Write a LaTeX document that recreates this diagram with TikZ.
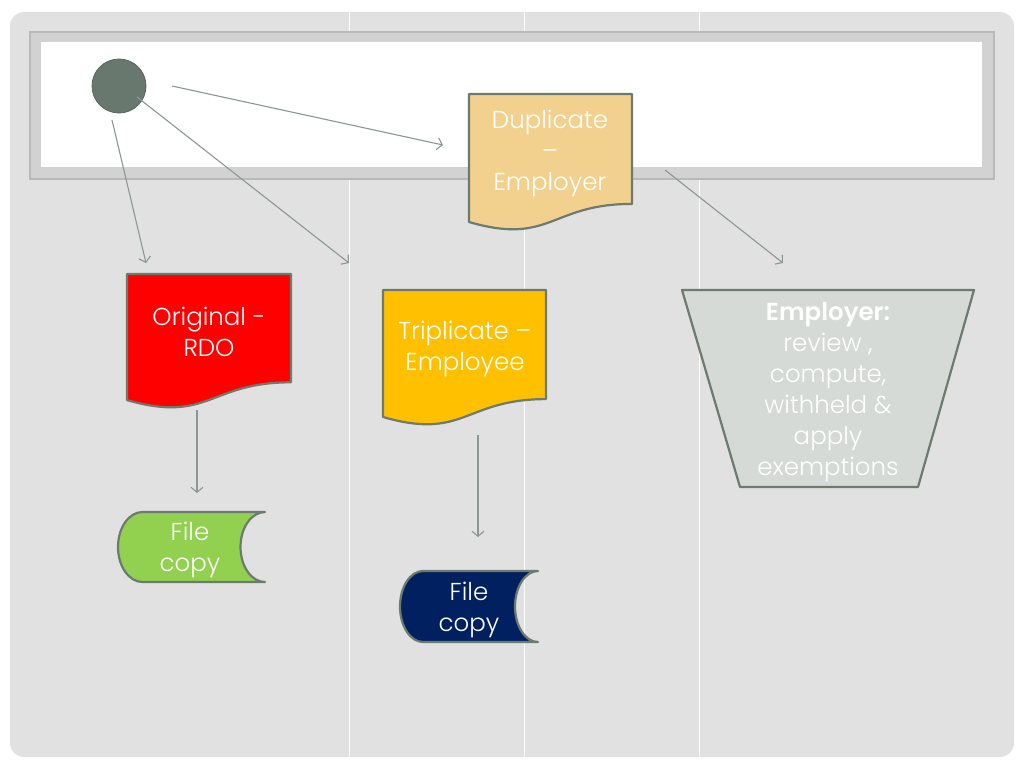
\documentclass[tikz,border=0pt]{standalone}
\usepackage{fontspec}
\setmainfont{Poppins}[UprightFont=* Light, BoldFont=* SemiBold]
\usetikzlibrary{arrows.meta}
\definecolor{panelc}{HTML}{E1E1E1}
\definecolor{bandc}{HTML}{D2D2D2}
\definecolor{bandedge}{HTML}{B9B9B9}
\definecolor{edgec}{HTML}{6C7A70}
\definecolor{arrowc}{HTML}{8C9692}
\definecolor{circc}{HTML}{68786E}
\definecolor{dupc}{HTML}{F2D18E}
\definecolor{redc}{HTML}{FF0000}
\definecolor{triplc}{HTML}{FFC000}
\definecolor{greenc}{HTML}{92D050}
\definecolor{navyc}{HTML}{002060}
\definecolor{trapc}{HTML}{D5DAD6}
\begin{document}
\begin{tikzpicture}[x=1pt,y=-1pt,
  conn/.style={draw=arrowc, line width=1.1pt, -{Straight Barb[length=5pt,width=12pt]}},
  shapeline/.style={draw=edgec, line width=2.2pt, line join=round},
  lbl/.style={text=white, font=\fontsize{24.5}{31}\selectfont, align=center, inner sep=0pt}]
\useasboundingbox (0,0) rectangle (1024,768);
\fill[white] (0,0) rectangle (1024,768);
% panel
\fill[panelc, rounded corners=14pt] (10,12) rectangle (1014,757);
\foreach \xx in {349,524,699} \draw[white, line width=1pt] (\xx,12) -- (\xx,757);
% banner
\fill[bandc, draw=bandedge, line width=1.5pt] (30,32) rectangle (994,179);
\fill[white] (41,42) rectangle (982,167);
% start circle
\node[circle, fill=circc, draw=circc!85!black, line width=0.8pt, minimum size=54pt, inner sep=0pt] (start) at (119,86) {};
% Duplicate - Employer
\path[shapeline, fill=dupc] (469,94) -- (632,94) -- (632,203.9) .. controls (550.5,203.9) and (550.5,245.7) .. (469,222) -- cycle;
\node[lbl] (dup) at (550,153) {Duplicate\\–\\Employer};
% Original - RDO
\path[shapeline, fill=redc] (127,274) -- (291,274) -- (291,382.3) .. controls (209,382.3) and (209,423.5) .. (127,400.1) -- cycle;
\node[lbl] (orig) at (209,332) {Original -\\RDO};
% Triplicate - Employee
\path[shapeline, fill=triplc] (383,290) -- (546,290) -- (546,399.1) .. controls (464.5,399.1) and (464.5,440.6) .. (383,417) -- cycle;
\node[lbl] (trip) at (465,348.5) {Triplicate –\\Employee};
% File copy green
\path[shapeline, fill=greenc] (142.5,512) -- (265,512) arc[start angle=-90, end angle=-270, x radius=24.5, y radius=35] -- (142.5,582) arc[start angle=90, end angle=270, x radius=24.5, y radius=35] -- cycle;
\node[lbl] (file1) at (190,550) {File\\copy};
% File copy navy
\path[shapeline, fill=navyc] (423,571) -- (538,571) arc[start angle=-90, end angle=-270, x radius=23, y radius=35.5] -- (423,642) arc[start angle=90, end angle=270, x radius=23, y radius=35.5] -- cycle;
\node[lbl] (file2) at (469,610) {File\\copy};
% Employer trapezoid
\path[shapeline, fill=trapc] (682,290) -- (974,290) -- (918,487) -- (740,487) -- cycle;
\node[lbl] (empl) at (828,392) {\textbf{Employer:}\\review ,\\compute,\\withheld \&\\apply\\exemptions};
% connector end points
\coordinate (s1) at (172,86);  \coordinate (e1) at (443,145);
\coordinate (s2) at (137,97);  \coordinate (e2) at (349,263);
\coordinate (s3) at (112,120); \coordinate (e3) at (146,263);
\coordinate (s4) at (665,170); \coordinate (e4) at (783,263);
\coordinate (s5) at (197,410); \coordinate (e5) at (197,493);
\coordinate (s6) at (478,435); \coordinate (e6) at (478,537);
\draw[conn] (s1) -- (e1);
\draw[conn] (s2) -- (e2);
\draw[conn] (s3) -- (e3);
\draw[conn] (s4) -- (e4);
\draw[conn] (s5) -- (e5);
\draw[conn] (s6) -- (e6);
\end{tikzpicture}
\end{document}
